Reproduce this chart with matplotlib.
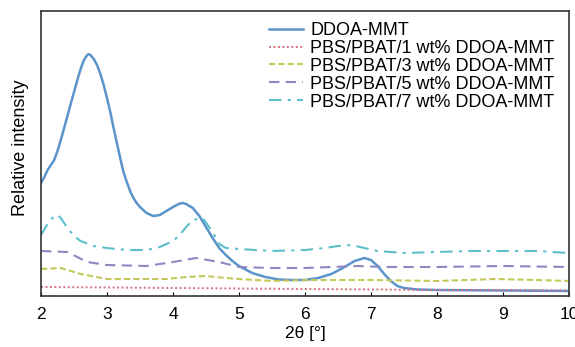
import matplotlib

matplotlib.use("Agg")
import matplotlib.pyplot as plt  # noqa: E402

plt.rcParams["font.family"] = ["Liberation Sans", "DejaVu Sans"]

# Intensita' relative (unita' arbitrarie)
x_ddoa = [2.0, 2.05, 2.1, 2.15, 2.2, 2.25, 2.3, 2.35, 2.4, 2.45, 2.5, 2.55, 2.6,
          2.65, 2.7, 2.72, 2.75, 2.8, 2.85, 2.9, 2.95, 3.0, 3.05, 3.1, 3.15,
          3.2, 3.25, 3.3, 3.35, 3.4, 3.45, 3.5, 3.6, 3.7, 3.8, 3.9, 4.0, 4.1,
          4.15, 4.2, 4.3, 4.4, 4.5, 4.6, 4.7, 4.8, 4.9, 5.0, 5.2, 5.4, 5.6,
          5.8, 6.0, 6.2, 6.4, 6.6, 6.75, 6.9, 7.0, 7.1, 7.2, 7.3, 7.4, 7.5,
          7.7, 8.0, 9.0, 10.0]
y_ddoa = [113, 119, 126, 131, 136, 145, 156, 168, 180, 192, 204, 216, 227,
          236, 241, 242, 241, 237, 231, 222, 211, 198, 184, 168, 153,
          138, 124, 114, 105, 98, 93, 89, 83, 80, 81, 85, 89, 92.5,
          93, 92, 88, 80, 69, 58, 48, 41, 35, 30, 23, 19, 16.5,
          16, 16, 18, 22, 29, 35, 38, 36, 30, 22, 15, 10, 8,
          6.5, 6, 5.5, 5]

x_1wt = [2.0, 3.0, 4.0, 5.0, 6.0, 7.0, 8.0, 9.0, 10.0]
y_1wt = [9, 8.5, 8, 7.5, 7, 6.5, 6, 6, 5.5]

x_3wt = [2.0, 2.3, 2.6, 3.0, 3.5, 3.9, 4.2, 4.5, 4.8, 5.0, 5.5, 6.0, 7.0, 8.0,
         8.9, 9.5, 10.0]
y_3wt = [27, 28, 22, 17, 17, 17, 19, 20, 18, 17, 15, 16, 16, 15, 17, 16, 15]

x_5wt = [2.0, 2.4, 2.7, 3.0, 3.6, 4.0, 4.35, 4.7, 5.0, 5.5, 6.0, 6.8, 7.2, 8.0,
         9.0, 10.0]
y_5wt = [45, 44, 34, 31, 30, 34, 38, 34, 29, 28, 28, 30, 29, 29, 30, 29]

x_7wt = [2.0, 2.1, 2.2, 2.25, 2.3, 2.4, 2.5, 2.6, 2.8, 3.0, 3.3, 3.6, 3.8, 4.0,
         4.1, 4.2, 4.3, 4.45, 4.6, 4.7, 4.8, 5.0, 5.5, 6.0, 6.3, 6.5, 6.7, 6.9,
         7.1, 7.5, 8.0, 8.5, 9.0, 9.5, 10.0]
y_7wt = [61, 72, 80, 81, 78, 68, 60, 55, 50, 48, 46, 46, 49, 55,
         61, 69, 76, 78, 64, 52, 48, 47, 45, 46, 48, 50, 51, 48,
         45, 43, 44, 45, 45, 45, 43]

series = [
    (x_ddoa, y_ddoa, "DDOA-MMT", "#5b94cb", "-", 1.8),
    (x_1wt, y_1wt, "PBS/PBAT/1 wt% DDOA-MMT", "#d8707e", (0, (1, 1.3)), 1.4),
    (x_3wt, y_3wt, "PBS/PBAT/3 wt% DDOA-MMT", "#c4c85a", (0, (3, 1.5)), 1.5),
    (x_5wt, y_5wt, "PBS/PBAT/5 wt% DDOA-MMT", "#8c88c2", (0, (5, 3)), 1.5),
    (x_7wt, y_7wt, "PBS/PBAT/7 wt% DDOA-MMT", "#5cc0cc", (0, (6, 3, 1.5, 3)), 1.5),
]

fig = plt.figure(figsize=(5.75, 3.47), dpi=100)
ax = fig.add_axes([0.0713, 0.147, 0.9183, 0.821])

for xs, ys, label, color, ls, lw in series:
    ax.plot(xs, ys, color=color, linestyle=ls, linewidth=lw, label=label,
            solid_joinstyle="round")

ax.set_xlim(2, 10)
ax.set_ylim(0, 285)
ax.set_xticks(range(2, 11))
ax.set_yticks([])
ax.tick_params(axis="x", direction="in", length=3, labelsize=12.5, pad=8)
ax.set_xlabel("2θ [°]", fontsize=12.5, labelpad=3)
ax.set_ylabel("Relative intensity", fontsize=13)
ax.yaxis.set_label_coords(-0.023, 0.52)
for sp in ax.spines.values():
    sp.set_linewidth(1.2)
    sp.set_color("#333333")

ax.legend(loc="upper right", bbox_to_anchor=(0.993, 1.0), frameon=False,
          fontsize=13, labelspacing=0.05, handlelength=1.9, handletextpad=0.4,
          borderaxespad=0.2)

fig.savefig("out.png", dpi=100)
